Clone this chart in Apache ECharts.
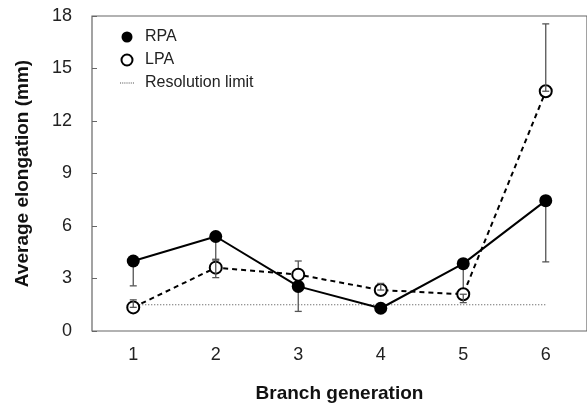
<!DOCTYPE html>
<html><head><meta charset="utf-8">
<script src="https://cdn.jsdelivr.net/npm/echarts@6/dist/echarts.min.js"></script>
<style>html,body{margin:0;padding:0;background:#fff}#c{width:587px;height:408px}</style>
</head><body><div id="c"></div>
<script>
var categories = ['1','2','3','4','5','6'];
var rpaValues = [4.0, 5.4, 2.55, 1.3, 3.85, 7.45];
var lpaValues = [1.35, 3.62, 3.22, 2.34, 2.1, 13.7];
var rpaErrLow  = [2.58, 4.05, 1.12, 1.3, 2.3, 3.95];
var rpaErrHigh = [4.0, 5.4, 4.0, 1.3, 3.85, 7.45];
var lpaErrLow  = [1.35, 3.05, 3.22, 2.34, 1.62, 13.7];
var lpaErrHigh = [1.78, 4.1, 3.22, 2.72, 2.1, 17.55];
var resolutionLimit = 1.5;
var yTicks = [0, 3, 6, 9, 12, 15, 18];

function errData(low, high) {
  return categories.map(function (c, i) { return [i, low[i], high[i]]; });
}
function errRender(params, api) {
  var x = api.value(0);
  var lo = api.coord([x, api.value(1)]);
  var hi = api.coord([x, api.value(2)]);
  if (Math.abs(lo[1] - hi[1]) < 0.5) return null;
  var w = 3.5;
  var st = { stroke: '#555', lineWidth: 1.3 };
  var children = [
    { type: 'line', shape: { x1: lo[0], y1: lo[1], x2: hi[0], y2: hi[1] }, style: st },
    { type: 'line', shape: { x1: lo[0] - w, y1: lo[1], x2: lo[0] + w, y2: lo[1] }, style: st },
    { type: 'line', shape: { x1: hi[0] - w, y1: hi[1], x2: hi[0] + w, y2: hi[1] }, style: st }
  ];
  return { type: 'group', children: children };
}

var dottedIcon = 'path://M0,0h1v1h-1zM2,0h1v1h-1zM4,0h1v1h-1zM6,0h1v1h-1zM8,0h1v1h-1zM10,0h1v1h-1zM12,0h1v1h-1z';

var chart = echarts.init(document.getElementById('c'));
var font = 'Liberation Sans, Arial, sans-serif';
chart.setOption({
  animation: false,
  grid: { left: 92, right: -4, top: 16, bottom: 76, show: true, borderColor: '#666', borderWidth: 1.2, backgroundColor: 'transparent' },
  legend: {
    orient: 'vertical', left: 115, top: 24, itemWidth: 14, itemHeight: 11, itemGap: 7,
    textStyle: { fontFamily: font, fontSize: 16, color: '#222', padding: [0, 0, 0, 6] },
    data: [
      { name: 'RPA', icon: 'circle', itemStyle: { color: '#000', borderWidth: 0 } },
      { name: 'LPA', icon: 'circle', itemStyle: { color: '#fff', borderColor: '#000', borderWidth: 2 } },
      { name: 'Resolution limit', icon: dottedIcon, itemStyle: { color: '#555', borderWidth: 0 } }
    ]
  },
  xAxis: {
    type: 'category', data: categories, boundaryGap: true,
    axisLine: { show: false }, axisTick: { show: false },
    axisLabel: { fontFamily: font, fontSize: 18, color: '#222', margin: 15 },
    name: 'Branch generation', nameLocation: 'middle', nameGap: 53,
    nameTextStyle: { fontFamily: font, fontSize: 19, fontWeight: 'bold', color: '#111' }
  },
  yAxis: {
    type: 'value', min: 0, max: 18, interval: 3,
    axisLine: { show: false }, splitLine: { show: false },
    axisTick: { show: true, inside: true, length: 5, lineStyle: { color: '#666' } },
    axisLabel: { fontFamily: font, fontSize: 18, color: '#222', margin: 20,
      formatter: function (v) { return yTicks.indexOf(v) >= 0 ? String(v) : ''; } },
    name: 'Average elongation (mm)', nameLocation: 'middle', nameGap: 60,
    nameTextStyle: { fontFamily: font, fontSize: 19, fontWeight: 'bold', color: '#111' }
  },
  series: [
    {
      name: 'Resolution limit', type: 'line', symbol: 'none', z: 1,
      data: categories.map(function () { return resolutionLimit; }),
      lineStyle: { color: '#444', width: 1, type: [1, 2] }, itemStyle: { color: '#444' }
    },
    { type: 'custom', renderItem: errRender, data: errData(rpaErrLow, rpaErrHigh), z: 1.5, silent: true },
    {
      name: 'RPA', type: 'line', data: rpaValues, symbol: 'circle', symbolSize: 13, z: 2,
      lineStyle: { color: '#000', width: 2 }, itemStyle: { color: '#000' }
    },
    {
      name: 'LPA', type: 'line', data: lpaValues, symbol: 'circle', symbolSize: 12, z: 2,
      lineStyle: { color: '#000', width: 2, type: [5, 4] },
      itemStyle: { color: '#fff', borderColor: '#000', borderWidth: 2 }
    },
    { type: 'custom', renderItem: errRender, data: errData(lpaErrLow, lpaErrHigh), z: 3, silent: true }
  ]
});
</script></body></html>
